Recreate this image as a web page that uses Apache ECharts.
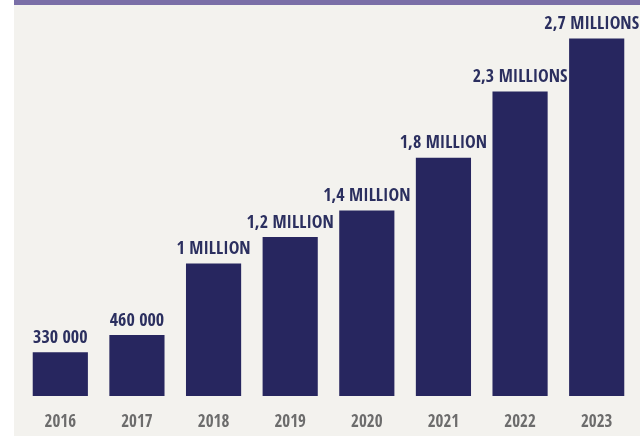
<!DOCTYPE html>
<html>
<head>
<meta charset="utf-8">
<script src="https://cdn.jsdelivr.net/npm/echarts@6/dist/echarts.min.js"></script>
<style>
html,body{margin:0;padding:0;background:#f3f2ee;}
#c{width:640px;height:436px;}
</style>
</head>
<body>
<div id="c"></div>
<script>
var years = ['2016','2017','2018','2019','2020','2021','2022','2023'];
var values = [330000, 460000, 1000000, 1200000, 1400000, 1800000, 2300000, 2700000];
var valueLabels = ['330 000','460 000','1 MILLION','1,2 MILLION','1,4 MILLION','1,8 MILLION','2,3 MILLIONS','2,7 MILLIONS'];

var font = '"Open Sans Condensed", "Roboto Condensed", sans-serif';
var seriesData = values.map(function(v, i){
  var d = {value: v};
  if (i === values.length - 1) d.label = {offset: [-5, 0]};
  return d;
});
var chart = echarts.init(document.getElementById('c'));
chart.setOption({
  backgroundColor: '#f3f2ee',
  animation: false,
  graphic: [
    {type:'rect', left:0, top:0, shape:{width:14, height:436}, style:{fill:'#ffffff'}, z:-1},
    {type:'rect', left:14, top:0, shape:{width:626, height:5}, style:{fill:'#7a6fa7'}}
  ],
  grid: {left:22, right:5, top:12, bottom:40},
  xAxis: {
    type:'category',
    data: years,
    axisLine:{show:false},
    axisTick:{show:false},
    axisLabel:{color:'#6c6c6c', fontFamily:font, fontWeight:800, fontSize:17, margin:18}
  },
  yAxis: {
    type:'value', min:0, max:2900000,
    show:false,
    splitLine:{show:false}
  },
  series: [{
    type:'bar',
    data: seriesData,
    barWidth:'72%',
    itemStyle:{color:'#27265f'},
    label:{
      show:true,
      position:'top',
      distance:5,
      color:'#2b2f5f',
      fontFamily:font,
      fontWeight:800,
      fontSize:18,
      formatter:function(p){return valueLabels[p.dataIndex];}
    }
  }]
});
</script>
</body>
</html>
